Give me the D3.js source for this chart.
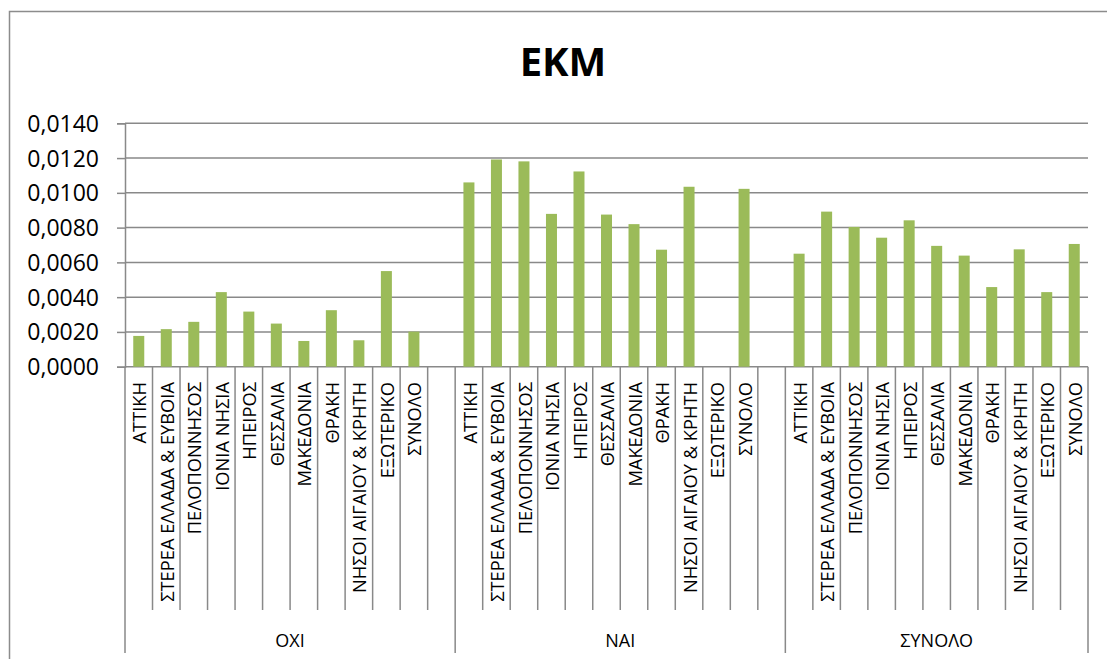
<!DOCTYPE html>
<html>
<head>
<meta charset="utf-8">
<script src="https://cdn.jsdelivr.net/npm/d3@7"></script>
<style>
  html, body { margin: 0; padding: 0; background: #fff; }
  svg { display: block; font-family: "Open Sans", sans-serif; }
</style>
</head>
<body>
<svg id="chart" width="1107" height="659"></svg>
<script>
const title = "ΕΚΜ";
const groups = ["ΟΧΙ", "ΝΑΙ", "ΣΥΝΟΛΟ"];
const regions = ["ΑΤΤΙΚΗ", "ΣΤΕΡΕΑ ΕΛΛΑΔΑ & ΕΥΒΟΙΑ", "ΠΕΛΟΠΟΝΝΗΣΟΣ", "ΙΟΝΙΑ ΝΗΣΙΑ", "ΗΠΕΙΡΟΣ",
  "ΘΕΣΣΑΛΙΑ", "ΜΑΚΕΔΟΝΙΑ", "ΘΡΑΚΗ", "ΝΗΣΟΙ ΑΙΓΑΙΟΥ & ΚΡΗΤΗ", "ΕΞΩΤΕΡΙΚΟ", "ΣΥΝΟΛΟ"];
const valuesOXI = [0.00177, 0.00216, 0.00258, 0.00429, 0.00317, 0.00248, 0.00148, 0.00325, 0.00152, 0.00550, 0.00202];
const valuesNAI = [0.01060, 0.01192, 0.01181, 0.00879, 0.01123, 0.00875, 0.00820, 0.00673, 0.01035, null, 0.01023];
const valuesSYNOLO = [0.00650, 0.00892, 0.00804, 0.00742, 0.00842, 0.00695, 0.00639, 0.00458, 0.00675, 0.00429, 0.00706];
const yTicks = [0, 0.002, 0.004, 0.006, 0.008, 0.010, 0.012, 0.014];

(function () {
const seriesByGroup = [valuesOXI, valuesNAI, valuesSYNOLO];

// slots: each group gets its regions, the first two groups get one trailing empty slot
const slots = [];
groups.forEach((g, gi) => {
  regions.forEach((r, ri) => slots.push({ key: g + "|" + r, group: g, label: r, value: seriesByGroup[gi][ri] }));
  if (gi < groups.length - 1) slots.push({ key: g + "|_blank", group: g, label: "", value: null });
});

const svg = d3.select("#chart");
const pLeft = 125, pRight = 1088, pTop = 123.3, pBottom = 366.7;
const grid = "#898989";

// outer frame (left and top edges visible)
svg.append("path")
  .attr("d", "M9.5,700 V11.5 H1120")
  .attr("fill", "none").attr("stroke", "#8c8c8c").attr("stroke-width", 1.5);

// title
svg.append("text")
  .attr("x", 563).attr("y", 76)
  .attr("text-anchor", "middle")
  .attr("font-size", 40).attr("font-weight", "bold")
  .attr("fill", "#000")
  .text(title);

const x = d3.scaleBand()
  .domain(slots.map(d => d.key))
  .range([pLeft, pRight])
  .paddingInner(0.6).paddingOuter(0.3);
const step = x.step();
const slotLeft = k => x(k) - step * 0.3;

const y = d3.scaleLinear().domain([0, 0.014]).range([pBottom, pTop]);
const loc = d3.formatLocale({ decimal: ",", thousands: ".", grouping: [3], currency: ["", "€"] });
const fmt = loc.format(".4f");

// gridlines
svg.append("g").selectAll("line").data(yTicks).join("line")
  .attr("x1", pLeft).attr("x2", pRight)
  .attr("y1", d => y(d)).attr("y2", d => y(d))
  .attr("stroke", grid).attr("stroke-width", 1.5);

// y axis
const yAxis = svg.append("g")
  .attr("transform", `translate(${pLeft},0)`)
  .call(d3.axisLeft(y).tickValues(yTicks).tickFormat(fmt).tickSize(8).tickPadding(18));
yAxis.select(".domain").attr("stroke", grid).attr("stroke-width", 1.5);
yAxis.selectAll(".tick line").attr("stroke", grid).attr("stroke-width", 1.5);
yAxis.selectAll(".tick text")
  .attr("font-family", "'Open Sans', sans-serif")
  .attr("font-size", 23).attr("fill", "#000").attr("dy", "0.35em");

// bars
svg.append("g").selectAll("rect")
  .data(slots.filter(d => d.value != null))
  .join("rect")
  .attr("x", d => x(d.key))
  .attr("width", x.bandwidth())
  .attr("y", d => y(d.value))
  .attr("height", d => y(0) - y(d.value))
  .attr("fill", "#9BBB59");

// category separators
const sepG = svg.append("g");
slots.forEach((d, i) => {
  const isGroupStart = i === 0 || slots[i - 1].group !== d.group;
  sepG.append("line")
    .attr("x1", slotLeft(d.key)).attr("x2", slotLeft(d.key))
    .attr("y1", pBottom).attr("y2", isGroupStart ? 653 : 610)
    .attr("stroke", grid).attr("stroke-width", 1.5);
});
sepG.append("line")
  .attr("x1", pRight).attr("x2", pRight)
  .attr("y1", pBottom).attr("y2", 653)
  .attr("stroke", grid).attr("stroke-width", 1.5);

// category labels (rotated)
svg.append("g").selectAll("text")
  .data(slots.filter(d => d.label))
  .join("text")
  .attr("transform", d => `translate(${x(d.key) + x.bandwidth() / 2 + 1},382) rotate(-90)`)
  .attr("text-anchor", "end")
  .attr("dy", "0.36em")
  .attr("font-size", 18.3)
  .attr("fill", "#000")
  .text(d => d.label);

// group labels
groups.forEach(g => {
  const gs = slots.filter(d => d.group === g);
  const x0 = slotLeft(gs[0].key);
  const lastIdx = slots.indexOf(gs[gs.length - 1]);
  const x1 = lastIdx + 1 < slots.length ? slotLeft(slots[lastIdx + 1].key) : pRight;
  svg.append("text")
    .attr("x", (x0 + x1) / 2).attr("y", 647)
    .attr("text-anchor", "middle")
    .attr("font-size", 18)
    .attr("fill", "#000")
    .text(g);
});
})();
</script>
</body>
</html>
